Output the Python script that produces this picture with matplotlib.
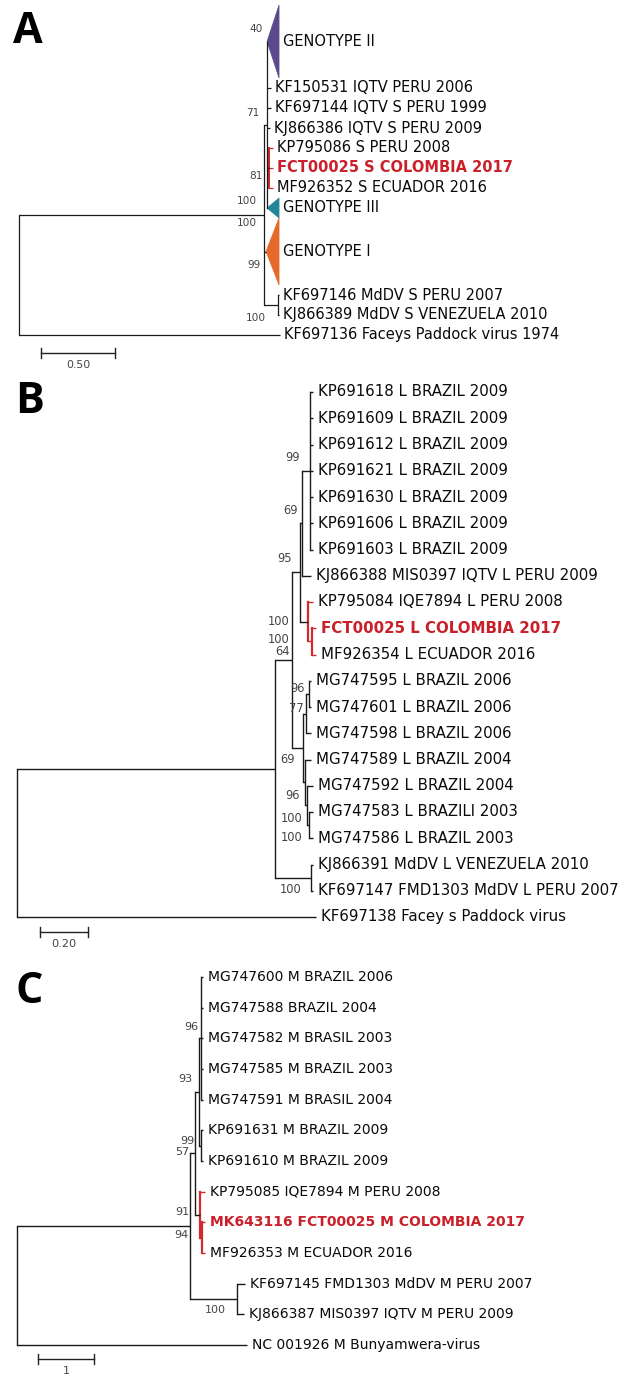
import matplotlib
matplotlib.use("Agg")
import matplotlib.pyplot as plt
from matplotlib.patches import Polygon

W, H = 629, 1375

# ===================== DATA =====================
# ---- Panel A : S segment ----
A_labels = ["GENOTYPE II", "KF150531 IQTV PERU 2006", "KF697144 IQTV S PERU 1999",
            "KJ866386 IQTV S PERU 2009", "KP795086 S PERU 2008", "FCT00025 S COLOMBIA 2017",
            "MF926352 S ECUADOR 2016", "GENOTYPE III", "GENOTYPE I",
            "KF697146 MdDV S PERU 2007", "KJ866389 MdDV S VENEZUELA 2010",
            "KF697136 Faceys Paddock virus 1974"]
A_tip = [1.757, 1.703, 1.703, 1.696, 1.716, 1.716, 1.716, 1.757, 1.757, 1.757, 1.757, 1.764]
A_span = [3.65, 1, 1, 1, 1, 1, 1, 1, 3.35, 1, 1, 1]
A_collapsed = {0: (1.676, "#5b4a8b"), 7: (1.676, "#23849a"), 8: (1.669, "#e4692a")}
A_collapsed_support = {0: 40, 7: 100, 8: 99}
A_nodes = [("Sred", 1.689, [4, 5, 6], 81),
           ("Sa", 1.676, [0, 1, 2, 3, "Sred", 7], 71),
           ("Smd", 1.750, [9, 10], 100),
           ("Sin", 1.655, ["Sa", 8, "Smd"], 100),
           ("root", 0.0, ["Sin", 11], None)]
A_red = ["Sred"]
A_highlight = 5
A_scale = 0.50
A_scale_text = "0.50"

# ---- Panel B : L segment ----
B_labels = ["KP691618 L BRAZIL 2009", "KP691609 L BRAZIL 2009", "KP691612 L BRAZIL 2009",
            "KP691621 L BRAZIL 2009", "KP691630 L BRAZIL 2009", "KP691606 L BRAZIL 2009",
            "KP691603 L BRAZIL 2009", "KJ866388 MIS0397 IQTV L PERU 2009",
            "KP795084 IQE7894 L PERU 2008", "FCT00025 L COLOMBIA 2017",
            "MF926354 L ECUADOR 2016", "MG747595 L BRAZIL 2006", "MG747601 L BRAZIL 2006",
            "MG747598 L BRAZIL 2006", "MG747589 L BRAZIL 2004", "MG747592 L BRAZIL 2004",
            "MG747583 L BRAZILl 2003", "MG747586 L BRAZIL 2003",
            "KJ866391 MdDV L VENEZUELA 2010", "KF697147 FMD1303 MdDV L PERU 2007",
            "KF697138 Facey s Paddock virus"]
B_tip = [1.2333, 1.2333, 1.2333, 1.2333, 1.2333, 1.2333, 1.2333, 1.2250,
         1.2333, 1.2458, 1.2458, 1.2250, 1.2250, 1.2250, 1.2250, 1.2333,
         1.2333, 1.2333, 1.2333, 1.2333, 1.2458]
B_span = [1] * 21
B_nodes = [("Lbr9", 1.2208, [0, 1, 2, 3, 4, 5, 6], 99),
           ("L69a", 1.1875, ["Lbr9", 7], 69),
           ("Lred2", 1.2292, [9, 10], 100),
           ("Lred", 1.2125, [8, "Lred2"], 100),
           ("L95", 1.1792, ["L69a", "Lred"], 95),
           ("L96a", 1.2167, [11, 12], 96),
           ("L77", 1.2042, ["L96a", 13], 77),
           ("L100b", 1.2167, [16, 17], 100),
           ("L100a", 1.2083, [15, "L100b"], 100),
           ("L96b", 1.2000, [14, "L100a"], 96),
           ("L69b", 1.1917, ["L77", "L96b"], 69),
           ("L64", 1.1458, ["L95", "L69b"], 64),
           ("Lmd", 1.2250, [18, 19], 100),
           ("Lin", 1.0750, ["L64", "Lmd"], None),
           ("root", 0.0, ["Lin", 20], None)]
B_red = ["Lred", "Lred2"]
B_highlight = 9
B_scale = 0.20
B_scale_text = "0.20"

# ---- Panel C : M segment ----
C_labels = ["MG747600 M BRAZIL 2006", "MG747588 BRAZIL 2004", "MG747582 M BRASIL 2003",
            "MG747585 M BRAZIL 2003", "MG747591 M BRASIL 2004", "KP691631 M BRAZIL 2009",
            "KP691610 M BRAZIL 2009", "KP795085 IQE7894 M PERU 2008",
            "MK643116 FCT00025 M COLOMBIA 2017", "MF926353 M ECUADOR 2016",
            "KF697145 FMD1303 MdDV M PERU 2007", "KJ866387 MIS0397 IQTV M PERU 2009",
            "NC 001926 M Bunyamwera-virus"]
C_tip = [3.321, 3.321, 3.321, 3.321, 3.321, 3.321, 3.321, 3.357, 3.357, 3.357,
         4.071, 4.054, 4.107]
C_span = [1] * 13
C_nodes = [("M96", 3.286, [0, 1, 2, 3, 4], 96),
           ("M99", 3.286, [5, 6], 99),
           ("M93", 3.250, ["M96", "M99"], 93),
           ("M94", 3.304, [8, 9], 94),
           ("M91", 3.268, [7, "M94"], 91),
           ("M57", 3.179, ["M93", "M91"], 57),
           ("Mmd", 3.929, [10, 11], 100),
           ("Min", 3.089, ["M57", "Mmd"], None),
           ("root", 0.0, ["Min", 12], None)]
C_red = ["M91", "M94"]
C_highlight = 8
C_scale = 1
C_scale_text = "1"

# ===================== LAYOUT / STYLE =====================
RED_LINE = "#d42a2e"
RED_TEXT = "#c9202a"
SUP_COL = "#444444"

fig = plt.figure(figsize=(W / 100, H / 100), dpi=100)


def make_axes(top, bottom, root_px, ppu, row0_px, dy):
    ax = fig.add_axes([0, 1 - bottom / H, 1, (bottom - top) / H])
    ax.set_xlim(-root_px / ppu, (W - root_px) / ppu)
    ax.set_ylim((bottom - row0_px) / dy, (top - row0_px) / dy)
    ax.axis("off")
    ax._px = (root_px, ppu, row0_px, dy)
    return ax


def px2data(ax, px, py):
    root_px, ppu, row0_px, dy = ax._px
    return (px - root_px) / ppu, (py - row0_px) / dy


def draw_tree(ax, labels, tips, spans, nodes, red_nodes, highlight, collapsed,
              collapsed_support, sup_offsets, label_fs, sup_fs, lw, label_off):
    ys = []
    cum = 0.0
    for s in spans:
        ys.append(cum + s / 2)
        cum += s
    pos = {}
    for i, (lab, t) in enumerate(zip(labels, tips)):
        if i in collapsed:
            apex, col = collapsed[i]
            pos[i] = (apex, ys[i])
            h = spans[i] / 2
            ax.add_patch(Polygon([(apex, ys[i]), (t, ys[i] - h), (t, ys[i] + h)],
                                 closed=True, facecolor=col, edgecolor=col, lw=0.5))
        else:
            pos[i] = (t, ys[i])
        red = (i == highlight)
        ax.annotate(lab, (t, ys[i]), xytext=(label_off, 0), textcoords="offset points",
                    ha="left", va="center", fontsize=label_fs,
                    color=RED_TEXT if red else "#0a0a0a",
                    fontweight="bold" if red else "normal", annotation_clip=False)
    for name, x, ch, sup in nodes:
        cys = [pos[c][1] for c in ch]
        y = (min(cys) + max(cys)) / 2
        pos[name] = (x, y)
        red = name in red_nodes
        col = RED_LINE if red else "#1a1a1a"
        w = lw * 1.6 if red else lw
        ax.plot([x, x], [min(cys), max(cys)], color=col, lw=w, clip_on=False,
                solid_capstyle="projecting")
        for c in ch:
            cx, cy = pos[c]
            ax.plot([x, cx], [cy, cy], color=col, lw=lw, clip_on=False,
                    solid_capstyle="butt")
    sups = {n[0]: n[3] for n in nodes}
    sups.update(collapsed_support)
    for key, (dx, dyp) in sup_offsets.items():
        ax.annotate(str(sups[key]), pos[key], xytext=(dx * 0.72, -dyp * 0.72),
                    textcoords="offset points", ha="right", va="center",
                    fontsize=sup_fs, color=SUP_COL, annotation_clip=False)


def scale_bar(ax, x_px, y_px, length, text, fs, lw):
    x0, y0 = px2data(ax, x_px, y_px)
    _, ppu, _, dy = ax._px
    t = 5 / dy
    ax.plot([x0, x0 + length], [y0, y0], color="#222222", lw=lw, clip_on=False)
    for xx in (x0, x0 + length):
        ax.plot([xx, xx], [y0 - t, y0 + t], color="#222222", lw=lw, clip_on=False)
    ax.text(x0 + length / 2, y0 + 12 / dy, text, ha="center", va="center",
            fontsize=fs, color=SUP_COL)


plt.rcParams["font.family"] = ["DejaVu Sans"]

# ---- Panel A ----
axA = make_axes(0, 368, 19, 148, 5, 20)
draw_tree(axA, A_labels, A_tip, A_span, A_nodes, A_red, A_highlight, A_collapsed,
          A_collapsed_support,
          {0: (-4, -13), "Sa": (-8, -12), "Sred": (-6, 8), 7: (-10, -7),
           "Sin": (-7, 8), 8: (-5, 14), "Smd": (-12, 13)},
          label_fs=10.5, sup_fs=7.6, lw=0.9, label_off=3.0)
scale_bar(axA, 41, 353, A_scale, A_scale_text, 7.8, 1.0)

# ---- Panel B ----
axB = make_axes(368, 958, 17, 240, 392 - 13.125, 26.25)
draw_tree(axB, B_labels, B_tip, B_span, B_nodes, B_red, B_highlight, {}, {},
          {"Lbr9": (-10, -13), "L69a": (-4, -13), "L95": (-8, -14), "Lred": (-18, 0),
           "Lred2": (-22, -2), "L64": (-2, -9), "L96a": (-4, -5), "L77": (-2, -5),
           "L69b": (-8, 11), "L96b": (-5, 13), "L100a": (-4, 13), "L100b": (-6, 12),
           "Lmd": (-9, 12)},
          label_fs=10.8, sup_fs=8.3, lw=1.0, label_off=3.6)
scale_bar(axB, 40, 932, B_scale, B_scale_text, 8.2, 1.0)

# ---- Panel C ----
axC = make_axes(958, 1375, 17, 56, 977 - 15.33, 30.67)
draw_tree(axC, C_labels, C_tip, C_span, C_nodes, C_red, C_highlight, {}, {},
          {"M96": (-3, -11), "M93": (-7, -13), "M99": (-7, -5), "M57": (-6, -1),
           "M91": (-11, -3), "M94": (-14, -3), "Mmd": (-11, 11)},
          label_fs=10.0, sup_fs=8.0, lw=1.0, label_off=3.6)
scale_bar(axC, 38, 1359, C_scale, C_scale_text, 8.0, 1.0)

# ---- Panel letters ----
for letter, lx, ly in [("A", 13, 43), ("B", 15, 413), ("C", 15, 1003)]:
    fig.text(lx / W, 1 - ly / H, letter, fontsize=31, fontweight="bold",
             family=["Open Sans", "DejaVu Sans"], va="baseline", ha="left", color="black")

fig.savefig("out.png", dpi=100, facecolor="white")
